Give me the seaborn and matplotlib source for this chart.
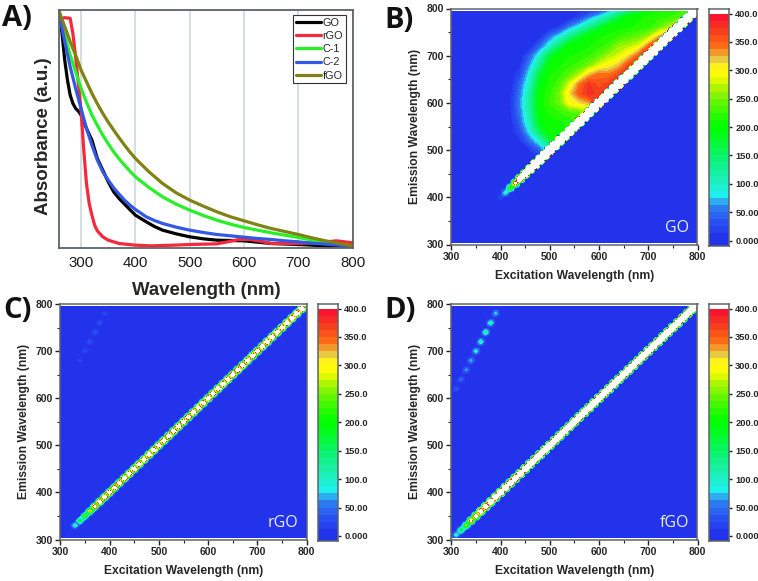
import numpy as np
import pandas as pd
import matplotlib
matplotlib.use("Agg")
import matplotlib.pyplot as plt
from matplotlib.colors import LinearSegmentedColormap, BoundaryNorm
import seaborn as sns

# panel A - absorbance (a.u.)
go_x = [260,265,270,275,280,285,290,295,300,310,320,330,340,350,360,370,380,400,420,435,450,475,500,525,550,600,650,700,750,800]
go_y = [702,642,562,502,457,432,417,409,397,357,322,267,232,197,167,147,130,97,77,63,52,41,32,26,22,20,12,9,5,4]
rgo_x = [260,265,270,280,285,290,295,300,305,310,315,320,325,330,340,350,370,400,430,470,500,550,570,590,610,630,650,700,740,770,800]
rgo_y = [687,687,689,687,642,572,492,412,292,192,132,97,67,50,32,22,12,7,5,7,9,11,17,24,24,19,12,12,15,20,14]
c2_x = [260,270,280,290,300,310,320,330,340,350,360,370,380,390,400,420,435,450,475,500,525,550,575,600,625,650,675,700,725,750,775,800]
c2_y = [697,617,542,477,417,357,307,262,227,202,179,160,142,127,114,92,81,72,61,52,45,39,35,31,27,24,20,17,13,10,7,4]
c1_x = [260,270,280,290,300,310,320,330,340,350,360,370,380,390,400,425,450,475,500,525,550,575,600,625,650,675,700,725,750,775,800]
c1_y = [702,637,577,527,477,436,397,366,337,311,287,266,247,229,212,180,152,130,112,96,82,70,60,52,44,37,30,22,14,9,4]
fgo_y = [707,662,617,577,532,497,462,431,402,376,352,329,307,286,267,227,192,164,142,124,107,92,80,68,57,48,39,29,20,12,5]

# diagonal (scatter) peak per excitation wavelength 300,310..790
diag_go = [0]*10 + [25,110,260,520,900,1300,1800] + [2400,2600] + [3000]*31
diag_rgo = [0,0,0,110,190,260,340,520,600,640,640,620,640,660,650,680,660,650,680,670,
            660,680,700,680,670,690,680,700,690,680,700,690,680,700,690,700,720,700,690,710,
            700,720,760,720,710,730,720,740,780,800]
diag_fgo = [0,110,190,280,480,600,720,800,900,950,1000,1050,1050,1100,1100,1100,1150,1100,1150,1150,
            1150,1100,1150,1150,1200,1200,1150,1200,1200,1200,1150,1200,1200,1250,1200,1200,1250,1200,1200,1250,
            1250,1200,1250,1250,1300,1250,1250,1300,1300,1300]

# spot outline as a share of the peak: 5 nm in excitation, 5 nm in emission,
# towards the next spot, off the diagonal
spot_go = (0.5, 0.5, 0.5, 0.3)
spot_rgo = (0.6, 0.5, 0.2, 0.12)
spot_fgo = (0.5, 0.5, 0.35, 0.2)

# second order spots, excitation 310..390
ghost_ex = [310,320,330,340,350,360,370,380,390]
ghost_rgo = [0,0,0,22,26,30,35,32,26]
ghost_fgo = [35,50,65,75,100,120,135,125,85]

# GO broad emission, 20 nm table
hump_ex = [420,440,460,480,500,520,540,560,580,600,620,640,660,680,700,720,740,760,780,800]
hump_em = [800,780,760,740,720,700,680,660,640,620,600,580,560,540,520,500,480]
hump_go = [
 [0,0,0,0,0,0,0,0,0,10,40,75,110,150,200,205,210,215,220,225],
 [0,0,0,0,0,0,0,25,60,90,125,170,205,210,215,220,225,235,250,0],
 [0,0,0,0,0,15,60,90,130,170,205,205,210,215,220,240,265,310,0,0],
 [0,0,0,5,50,90,130,175,205,210,215,225,235,245,265,320,370,0,0,0],
 [0,0,0,45,95,150,200,205,210,220,230,260,270,285,345,400,0,0,0,0],
 [0,0,40,95,170,205,210,215,225,240,265,280,310,350,400,0,0,0,0,0],
 [0,10,65,130,205,210,220,230,250,280,300,320,360,400,0,0,0,0,0,0],
 [0,25,90,170,210,220,240,270,320,345,340,360,400,0,0,0,0,0,0,0],
 [0,45,105,190,215,235,280,340,375,355,370,400,0,0,0,0,0,0,0,0],
 [5,55,120,200,220,250,310,355,380,370,400,0,0,0,0,0,0,0,0,0],
 [10,60,125,205,225,245,295,310,325,400,0,0,0,0,0,0,0,0,0,0],
 [8,55,120,200,215,225,235,240,260,0,0,0,0,0,0,0,0,0,0,0],
 [3,45,110,190,205,210,215,225,0,0,0,0,0,0,0,0,0,0,0,0],
 [0,30,85,160,205,205,215,0,0,0,0,0,0,0,0,0,0,0,0,0],
 [0,8,50,95,165,210,0,0,0,0,0,0,0,0,0,0,0,0,0,0],
 [0,0,10,40,110,0,0,0,0,0,0,0,0,0,0,0,0,0,0,0],
 [0,0,0,10,0,0,0,0,0,0,0,0,0,0,0,0,0,0,0,0],
]

# colour scale
scale_vals = [0,25,50,62,75,100,125,150,175,200,225,250,275,290,312,325,337,350,375,400]
scale_cols = ["#2332eb","#2850f0","#2d78f0","#32a0f0","#1ef0f0","#1ef0be","#14f096","#0af564",
              "#05fa28","#00ff00","#32fa00","#6ef505","#bef500","#ffff00","#fff01e","#e1be50",
              "#fa8c1e","#ff6414","#f53c1e","#fa142d"]
bar_ticks = [400,350,300,250,200,150,100,50,0]
bar_labels = ["400.0","350.0","300.0","250.0","200.0","150.0","100.0","50.00","0.000"]

W, H = 758, 581
sns.set_style("ticks")
plt.rcParams["font.family"] = ["Liberation Sans", "DejaVu Sans"]
plt.rcParams["axes.unicode_minus"] = False

def box(x0, y0, x1, y1):
    return [x0/W, 1-y1/H, (x1-x0)/W, (y1-y0)/H]

fig = plt.figure(figsize=(W/100, H/100), dpi=100, facecolor="white")

levels = np.arange(0, 412.5, 12.5)
mids = levels[:-1] + 6.25
cmap = LinearSegmentedColormap.from_list("origin", [(v/400, c) for v, c in zip(scale_vals, scale_cols)], N=256)
cmap = cmap.with_extremes(over="white")
norm = BoundaryNorm(levels, cmap.N)
axis_col = "#5c6468"

# panel A
ax = fig.add_axes(box(59.3, 10, 352.7, 247.5))
sns.lineplot(x=go_x, y=go_y, color="black", lw=2.3, label="GO", ax=ax)
sns.lineplot(x=rgo_x, y=rgo_y, color="#f5283c", lw=2.3, label="rGO", ax=ax)
sns.lineplot(x=c1_x, y=c1_y, color="#28f028", lw=2.3, label="C-1", ax=ax)
sns.lineplot(x=c2_x, y=c2_y, color="#3258e6", lw=2.3, label="C-2", ax=ax)
sns.lineplot(x=c1_x, y=fgo_y, color="#808214", lw=2.3, label="fGO", ax=ax)
ax.set_xlim(260, 800)
ax.set_ylim(0, 712)
ax.set_yticks([])
ax.set_xticks([300,400,500,600,700,800])
ax.grid(axis="x", color="#cdd8dc", lw=1.2)
ax.tick_params(axis="x", length=0, labelsize=10.8, pad=6, labelcolor="#1a1a1a")
for s in ax.spines.values():
    s.set_color(axis_col)
    s.set_linewidth(1.3)
ax.set_xlabel("Wavelength (nm)", fontsize=13.4, fontweight="bold", labelpad=9)
ax.set_ylabel("Absorbance (a.u.)", fontsize=13.5, fontweight="bold", labelpad=5, y=0.47)
leg = ax.legend(loc="upper right", bbox_to_anchor=(0.976, 0.979), frameon=True, fancybox=False, framealpha=1,
                edgecolor="#333333", fontsize=7.8, handlelength=2.35, handletextpad=0.1, labelspacing=0.3,
                borderpad=0.25, borderaxespad=0)
leg.get_frame().set_linewidth(0.8)

ex = np.arange(300, 805, 5)
em = np.arange(300, 805, 5)

def put_spot(z, e, m, peak, spot):
    # e, m are wavelengths, the grid is 5 nm
    i, j = (e-300)//5, (m-300)//5
    sx, sy, link, off = spot
    for dx, dy, f in [(0,0,1), (1,0,sx), (-1,0,sx), (0,1,sy), (0,-1,sy),
                      (1,1,link), (-1,-1,link), (1,-1,off), (-1,1,off)]:
        if 0 <= i+dx < len(ex) and 0 <= j+dy < len(em):
            z[j+dy, i+dx] = max(z[j+dy, i+dx], peak*f)

def eem_grid(diag, spot, ghost=None):
    z = np.zeros((len(em), len(ex)))
    for k, v in enumerate(diag):
        put_spot(z, 300+10*k, 300+10*k, v, spot)
    if ghost is not None:
        for e, v in zip(ghost_ex, ghost):
            put_spot(z, e, e*2, v, spot)
    return z

def eem_panel(pos, cpos, diag, spot, ghost, name, hump=False):
    ax = fig.add_axes(box(*pos))
    ax.set_facecolor(scale_cols[0])
    if hump:
        he = np.array(hump_ex)
        hm = np.array(hump_em)
        t = np.array(hump_go, dtype=float)
        ee, mm = np.meshgrid(he, hm)
        t = np.ma.masked_where(mm < ee, t)
        ax.contourf(he, hm, t, levels=levels[1:], cmap=cmap, norm=norm, extend="max")
    ax.contourf(ex, em, eem_grid(diag, spot, ghost), levels=levels[1:], cmap=cmap, norm=norm, extend="max")
    ax.axhspan(795, 800, color="white", zorder=3, lw=0)
    ax.axhspan(300, 302.5, color="white", zorder=3, lw=0)
    ax.set_xlim(300, 800)
    ax.set_ylim(300, 800)
    ax.set_xticks(range(300, 900, 100))
    ax.set_yticks(range(300, 900, 100))
    ax.set_xticks(range(350, 800, 100), minor=True)
    ax.set_yticks(range(350, 800, 100), minor=True)
    ax.tick_params(which="major", length=3.5, width=1, labelsize=7.5, pad=2, color="#222222")
    ax.tick_params(which="minor", length=2, width=0.8, color="#222222")
    for l in ax.get_xticklabels() + ax.get_yticklabels():
        l.set_fontweight("bold")
    for s in ax.spines.values():
        s.set_color(axis_col)
        s.set_linewidth(1.1)
        s.set_zorder(5)
    ax.set_xlabel("Excitation Wavelength (nm)", fontsize=8.7, fontweight="bold", labelpad=6)
    ax.set_ylabel("Emission Wavelength (nm)", fontsize=8.7, fontweight="bold", labelpad=4)
    ax.text(0.965, 0.07, name, transform=ax.transAxes, ha="right", va="center", color="#e6eef8",
            fontsize=11.5, family="Open Sans")

    # colour bar, one cell per level
    cax = fig.add_axes(box(*cpos))
    col = pd.DataFrame({"v": np.r_[406, mids[::-1], -6]})
    sns.heatmap(col, cmap=cmap, norm=norm, cbar=False, ax=cax, xticklabels=False, yticklabels=False)
    cax.set_ylim((412.5+8.8)/12.5, (412.5-408)/12.5)
    cax.yaxis.tick_right()
    cax.set_yticks([(412.5-v)/12.5 for v in bar_ticks])
    cax.set_yticklabels(bar_labels, rotation=0, fontsize=6.7, fontweight="bold")
    cax.set_ylabel("")
    cax.tick_params(axis="y", length=2.5, width=1, pad=2, color="#222222")
    for s in cax.spines.values():
        s.set_visible(True)
        s.set_color(axis_col)
        s.set_linewidth(1.1)

eem_panel((451.3, 8.5, 697.5, 244.5), (709, 9, 729, 245.5), diag_go, spot_go, None, "GO", hump=True)
eem_panel((60.3, 304, 306.7, 539.5), (318, 304, 338, 541), diag_rgo, spot_rgo, ghost_rgo, "rGO")
eem_panel((451.3, 304, 697.5, 539.5), (709, 304, 729, 541), diag_fgo, spot_fgo, ghost_fgo, "fGO")

# panel letters
for t, x, y in [("A)", 2, 18), ("B)", 384, 20), ("C)", 3, 310), ("D)", 384, 310)]:
    fig.text(x/W, 1-y/H, t, fontsize=21, fontweight="bold", family="Open Sans", va="center", ha="left", color="#111111")

fig.savefig("out.png", dpi=100)
